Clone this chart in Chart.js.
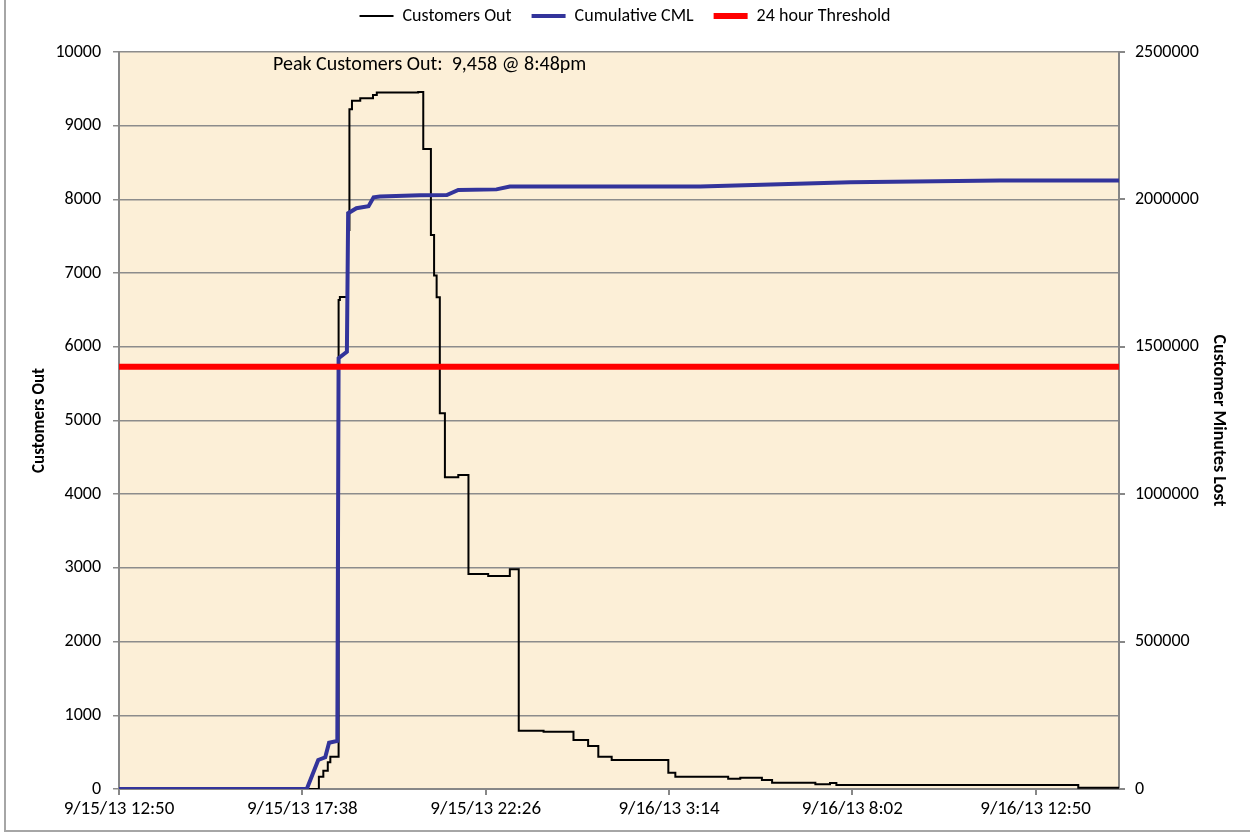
<!DOCTYPE html>
<html lang="en">
<head>
    <meta charset="UTF-8">
    <title>Customers Out</title>
    <style>
        body {
            margin: 0;
            background: #ffffff;
            overflow: hidden;
        }

        .frame {
            position: absolute;
            left: 4px;
            top: -4px;
            width: 1262px;
            height: 836px;
            border: 2px solid #a6a6a6;
            box-sizing: border-box;
        }

        .wrap {
            position: absolute;
            left: 0;
            top: 0;
            width: 1250px;
            height: 836px;
        }
    </style>
    <script src="https://cdn.jsdelivr.net/npm/chart.js"></script>
</head>
<body>
<div class="frame"></div>
<div class="wrap"><canvas id="outageChart"></canvas></div>

<script>
    // minutes since 9/15/13 12:50
    const xLabels = ['9/15/13 12:50', '9/15/13 17:38', '9/15/13 22:26', '9/16/13 3:14', '9/16/13 8:02', '9/16/13 12:50'];
    const xMax = 1571;

    const outTimes = [0, 314, 321, 328, 332, 345, 347, 359, 362, 366, 379, 399, 405, 470, 478, 490, 495, 499, 504, 512, 533, 549, 580, 614, 628, 667, 714, 737, 753, 774, 863, 874, 957, 976, 1010, 1026, 1094, 1117, 1127, 1507, 1571];
    const outValues = [0, 167, 248, 362, 438, 6636, 6676, 7586, 9224, 9340, 9372, 9417, 9449, 9458, 8685, 7518, 6966, 6672, 5098, 4230, 4261, 2918, 2890, 2981, 791, 778, 665, 583, 438, 394, 221, 167, 140, 153, 122, 86, 63, 81, 54, 18, 18];

    const cmlTimes = [0, 295, 313, 324, 330, 343, 345, 358, 360, 373, 392, 400, 410, 473, 515, 533, 593, 614, 913, 1149, 1384, 1571];
    const cmlValues = [0, 0, 98400, 107500, 157000, 163000, 1461000, 1483000, 1953000, 1970000, 1977000, 2007000, 2010000, 2014000, 2015000, 2032000, 2034000, 2044000, 2044000, 2058000, 2064000, 2064000];

    const thresholdTimes = [0, 1571];
    const thresholdValues = [1432000, 1432000];

    const peakText = 'Peak Customers Out:  9,458 @ 8:48pm';

    const FONT = 'Carlito, Lato, sans-serif';
    const AXIS_GREY = '#878787';

    function toPoints(xs, ys) {
        return xs.map((x, i) => ({x: x, y: ys[i]}));
    }

    // parchment fill behind the plot + the peak note
    const plotDecor = {
        id: 'plotDecor',
        beforeLayout(chart) {
            // legend box gets a fixed height so the plot starts at y=52,
            // and is nudged up because its padding also spaces the items
            const lg = chart.legend;
            if (lg && !lg._fixed) {
                const fit = lg.fit;
                lg.fit = function () {
                    fit.call(this);
                    this.height = 52;
                };
                const draw = lg.draw;
                lg.draw = function (area) {
                    this.ctx.save();
                    this.ctx.translate(0, -13);
                    draw.call(this, area);
                    this.ctx.restore();
                };
                lg._fixed = true;
            }
        },
        beforeDraw(chart) {
            const a = chart.chartArea;
            const ctx = chart.ctx;
            ctx.save();
            ctx.fillStyle = '#fcefd7';
            ctx.fillRect(a.left, a.top, a.right - a.left, a.bottom - a.top);
            ctx.restore();
        },
        afterDatasetsDraw(chart) {
            const a = chart.chartArea;
            const ctx = chart.ctx;
            ctx.save();
            ctx.font = '20px ' + FONT;
            ctx.fillStyle = '#000000';
            ctx.textBaseline = 'middle';
            ctx.fillText(peakText, a.left + 154, a.top + 13);
            ctx.restore();
        }
    };

    new Chart(document.getElementById('outageChart'), {
        type: 'line',
        data: {
            datasets: [{
                label: 'Customers Out',
                data: toPoints(outTimes, outValues),
                borderColor: '#000000',
                borderWidth: 2,
                pointRadius: 0,
                stepped: true,
                yAxisID: 'y',
                order: 2
            }, {
                label: 'Cumulative CML',
                data: toPoints(cmlTimes, cmlValues),
                borderColor: '#33349b',
                borderWidth: 4,
                pointRadius: 0,
                tension: 0,
                yAxisID: 'y1',
                order: 1
            }, {
                label: '24 hour Threshold',
                data: toPoints(thresholdTimes, thresholdValues),
                borderColor: '#ff0000',
                borderWidth: 6,
                pointRadius: 0,
                yAxisID: 'y1',
                order: 0
            }]
        },
        options: {
            responsive: true,
            maintainAspectRatio: false,
            animation: false,
            layout: {padding: 0},
            plugins: {
                tooltip: {enabled: false},
                legend: {
                    position: 'top',
                    labels: {
                        sort: (a, b) => a.datasetIndex - b.datasetIndex,
                        usePointStyle: true,
                        pointStyle: 'line',
                        pointStyleWidth: 34,
                        boxWidth: 58,
                        boxHeight: 8,
                        padding: 20,
                        color: '#000000',
                        font: {family: FONT, size: 18}
                    }
                }
            },
            scales: {
                x: {
                    type: 'linear',
                    min: 0,
                    max: xMax,
                    afterBuildTicks: (scale) => {
                        scale.ticks = xLabels.map((l, i) => ({value: i * 288}));
                    },
                    afterFit: (scale) => { scale.height = 47; },
                    ticks: {
                        color: '#000000',
                        font: {family: FONT, size: 19},
                        maxRotation: 0,
                        autoSkip: false,
                        padding: 3,
                        callback: (v) => xLabels[Math.round(v / 288)]
                    },
                    grid: {drawOnChartArea: false, drawTicks: true, tickLength: 6, color: AXIS_GREY, lineWidth: 2},
                    border: {color: AXIS_GREY, width: 2}
                },
                y: {
                    position: 'left',
                    min: 0,
                    max: 10000,
                    afterFit: (scale) => { scale.width = 119; },
                    ticks: {
                        stepSize: 1000,
                        color: '#000000',
                        font: {family: FONT, size: 18},
                        padding: 12,
                        callback: (v) => String(v)
                    },
                    grid: {color: '#8c8c8c', lineWidth: 1.5, tickLength: 6},
                    border: {color: AXIS_GREY, width: 2},
                    title: {
                        display: true,
                        text: 'Customers Out',
                        color: '#000000',
                        font: {family: FONT, size: 17, weight: 'bold'},
                        padding: {top: 30, bottom: 0}
                    }
                },
                y1: {
                    position: 'right',
                    min: 0,
                    max: 2500000,
                    afterFit: (scale) => { scale.width = 131; },
                    ticks: {
                        stepSize: 500000,
                        color: '#000000',
                        font: {family: FONT, size: 18},
                        padding: 10,
                        callback: (v) => String(v)
                    },
                    grid: {drawOnChartArea: false, color: AXIS_GREY, lineWidth: 2, tickLength: 6},
                    border: {color: AXIS_GREY, width: 2},
                    title: {
                        display: true,
                        text: 'Customer Minutes Lost',
                        color: '#000000',
                        font: {family: FONT, size: 18, weight: 'bold'},
                        padding: {top: 21, bottom: 0}
                    }
                }
            }
        },
        plugins: [plotDecor]
    });
</script>
</body>
</html>
